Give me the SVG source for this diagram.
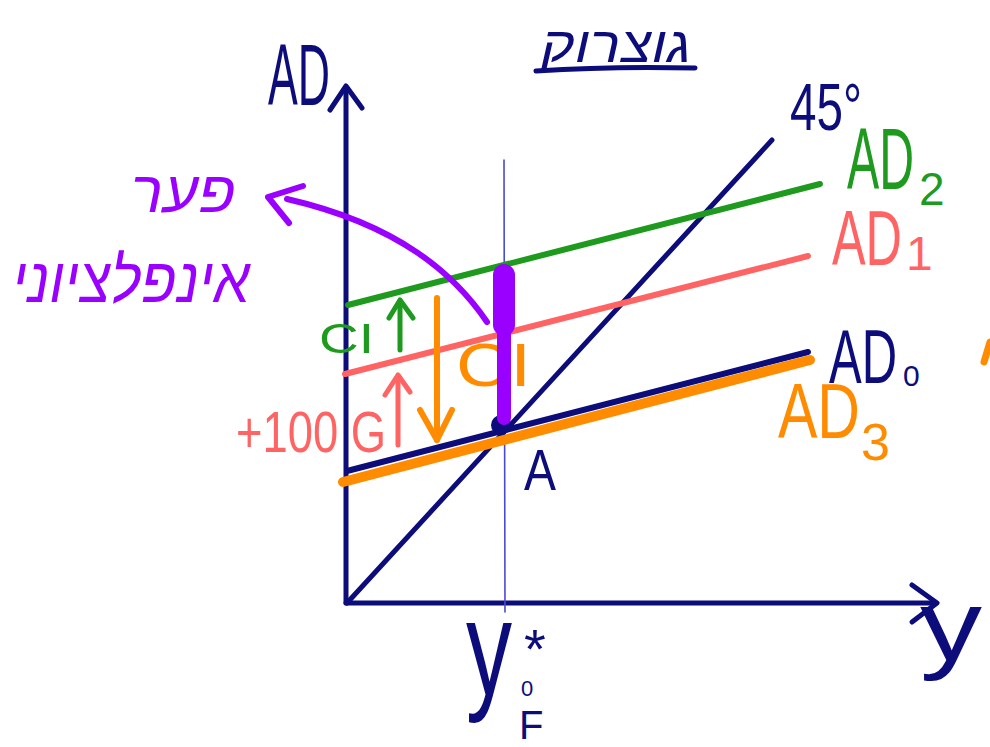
<svg xmlns="http://www.w3.org/2000/svg" width="990" height="747" viewBox="0 0 990 747">
<style>
.s{fill:none;stroke-linecap:round;stroke-linejoin:round}
.nv{stroke:#0c0c7a}
.gr{stroke:#1e9a1e}
.sa{stroke:#ff6464}
.or{stroke:#ff8c00}
.pu{stroke:#9a00ff}
text{font-family:"Liberation Sans","DejaVu Sans",sans-serif}
.tnv{fill:#0c0c7a}
.tgr{fill:#1e9a1e}
.tsa{fill:#ff6464}
.tor{fill:#ff8c00}
.tpu{fill:#9a00ff}
</style>
<rect width="990" height="747" fill="#ffffff"/>
<g id="axes">
<line class="s nv" x1="346" y1="603" x2="346" y2="88" stroke-width="5"/>
<polyline class="s nv" points="330,110 346,86 362,108" stroke-width="5"/>
<line class="s nv" x1="346" y1="603" x2="935" y2="603" stroke-width="5"/>
<polyline class="s nv" points="912,585 937,603 912,622" stroke-width="5"/>
<line class="s" x1="504" y1="160" x2="505" y2="612" stroke="#4a4ad0" stroke-width="1.6"/>
</g>
<g id="connectors">
<line id="line45" class="s nv" x1="347" y1="603" x2="772" y2="140" stroke-width="5"/>
<line id="ad2" class="s gr" x1="348" y1="305" x2="820" y2="184" stroke-width="6"/>
<line id="ad1" class="s sa" x1="345" y1="374" x2="808" y2="256" stroke-width="6"/>
<line id="ad0" class="s nv" x1="347" y1="471" x2="808" y2="352" stroke-width="6"/>
<line id="ad3" class="s or" x1="343" y1="482" x2="810" y2="360" stroke-width="10"/>
<g id="arrow-ci-green">
<line class="s gr" x1="400" y1="350" x2="400" y2="301" stroke-width="5"/>
<polyline class="s gr" points="389,318 400,300 413,318" stroke-width="5"/>
</g>
<g id="arrow-g">
<line class="s sa" x1="398" y1="445" x2="398" y2="376" stroke-width="5"/>
<polyline class="s sa" points="385,395 398,375 410,392" stroke-width="5"/>
</g>
<g id="arrow-ci-orange">
<line class="s or" x1="437" y1="298" x2="437" y2="440" stroke-width="6"/>
<polyline class="s or" points="420,410 437,440 452,410" stroke-width="6"/>
</g>
<g id="arrow-gap">
<path class="s pu" d="M487,322 C455,275 400,225 287,199" stroke-width="6"/>
<polyline class="s pu" points="303,186 268,197 289,223" stroke-width="6"/>
</g>
<line class="s or" x1="984" y1="362" x2="990" y2="342" stroke-width="7"/>
</g>
<g id="labels-axes">
<text class="tnv" x="268" y="105" font-size="88" textLength="62" lengthAdjust="spacingAndGlyphs">AD</text>
<text class="tnv" x="790" y="130" font-size="66" textLength="72" lengthAdjust="spacingAndGlyphs">45°</text>
<text class="tnv" x="920" y="660" font-size="100" textLength="62" lengthAdjust="spacingAndGlyphs">y</text>
</g>
<g id="title">
<text class="tnv" x="616" y="62" font-size="50" font-style="italic" text-anchor="middle" textLength="150" lengthAdjust="spacingAndGlyphs" direction="rtl">גוצרוק</text>
<path class="s nv" d="M536,71 Q610,66 695,68" stroke-width="5"/>
</g>
<g id="label-ad2">
<text class="tgr" x="847" y="189" font-size="88"><tspan textLength="67" lengthAdjust="spacingAndGlyphs">AD</tspan><tspan x="919" y="205" font-size="46">2</tspan></text>
</g>
<g id="label-ad1">
<text class="tsa" x="832" y="265" font-size="78"><tspan textLength="70" lengthAdjust="spacingAndGlyphs">AD</tspan><tspan x="906" y="270" font-size="48">1</tspan></text>
</g>
<g id="label-ad0">
<text class="tnv" x="829" y="383" font-size="76"><tspan textLength="68" lengthAdjust="spacingAndGlyphs">AD</tspan><tspan x="903" y="386" font-size="30">0</tspan></text>
</g>
<g id="label-ad3">
<text class="tor" x="778" y="438" font-size="78"><tspan textLength="82" lengthAdjust="spacingAndGlyphs">AD</tspan><tspan x="861" y="460" font-size="52">3</tspan></text>
</g>
<g id="point-a">
<circle cx="501" cy="425" r="10" fill="#0c0c7a"/>
<text class="tnv" x="524" y="490" font-size="58" textLength="32" lengthAdjust="spacingAndGlyphs">A</text>
</g>
<g id="label-ci-green">
<text class="tgr" x="319" y="353" font-size="42" textLength="55" lengthAdjust="spacingAndGlyphs">CI</text>
</g>
<g id="label-g">
<text class="tsa" x="236" y="452" font-size="58" textLength="150" lengthAdjust="spacingAndGlyphs">+100 G</text>
</g>
<g id="label-ci-orange">
<text class="tor" x="456" y="386" font-size="62" textLength="75" lengthAdjust="spacingAndGlyphs">CI</text>
</g>
<g id="gap-bar">
<line class="s pu" x1="504" y1="330" x2="504" y2="418" stroke-width="14"/>
<line class="s pu" x1="504" y1="275" x2="504" y2="325" stroke-width="22"/>
</g>
<g id="label-gap">
<text class="tpu" x="183" y="212" font-size="58" font-style="italic" text-anchor="middle" textLength="105" lengthAdjust="spacingAndGlyphs" direction="rtl">פער</text>
<text class="tpu" x="131" y="302" font-size="64" font-style="italic" text-anchor="middle" textLength="238" lengthAdjust="spacingAndGlyphs" direction="rtl">אינפלציוני</text>
</g>
<g id="label-y0">
<text class="tnv" x="466" y="695" font-size="136"><tspan textLength="46" lengthAdjust="spacingAndGlyphs">y</tspan><tspan x="524" y="668" font-size="56">*</tspan><tspan x="521" y="696" font-size="22">0</tspan><tspan x="519" y="739" font-size="40">F</tspan></text>
</g>
</svg>
